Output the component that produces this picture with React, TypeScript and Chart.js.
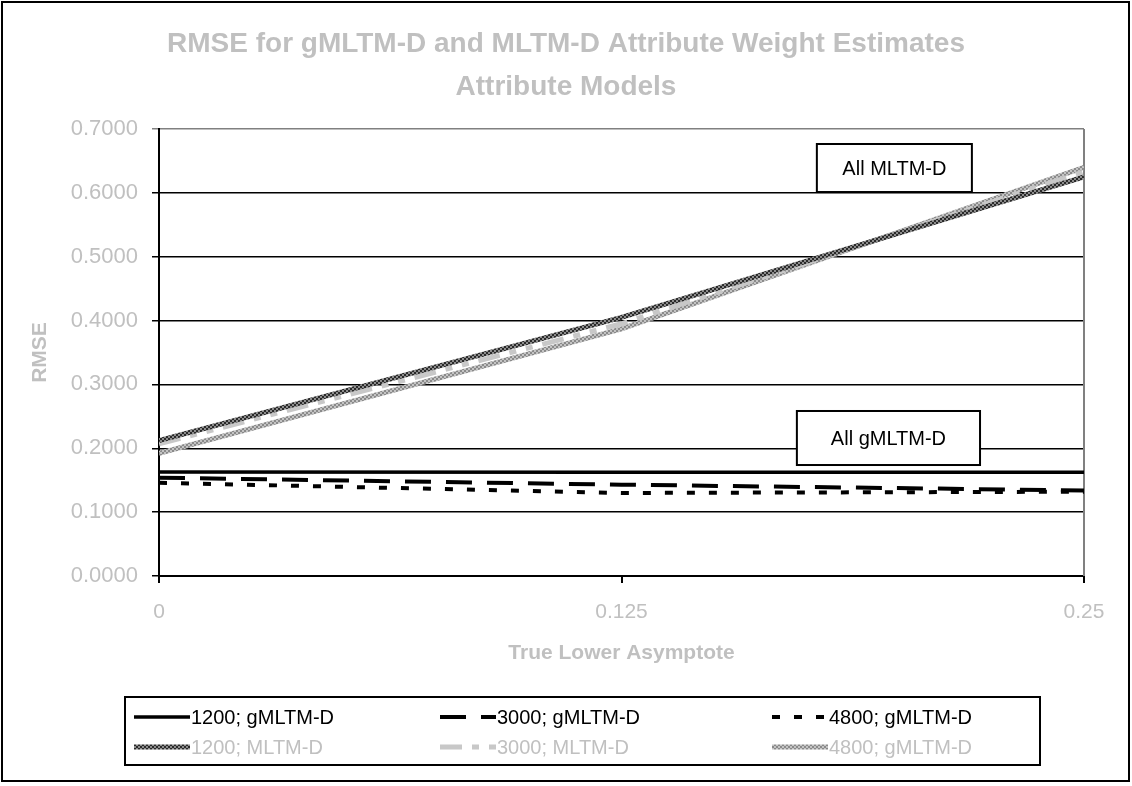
import React, { useEffect, useRef } from 'react';
import { Chart, registerables } from 'chart.js';

Chart.register(...registerables);

// True lower asymptote values on the x axis
const asymptotes = [0, 0.125, 0.25];
const xTickValues = [0, 0.125, 0.25];
const xTickLabels = ['0', '0.125', '0.25'];

// RMSE of attribute weight estimates, one array per sample size / model
const g1200 = [0.163, 0.1625, 0.1625];
const g3000 = [0.154, 0.143, 0.134];
const g4800 = [0.146, 0.13, 0.132];
const m1200 = [0.212, 0.405, 0.625];
const m3000 = [0.207, 0.395, 0.633];
const m4800 = [0.192, 0.387, 0.64];

const seriesLabels = [
  '1200; gMLTM-D',
  '3000; gMLTM-D',
  '4800; gMLTM-D',
  '1200; MLTM-D',
  '3000; MLTM-D',
  '4800; gMLTM-D',
];

const titleLines = ['RMSE for gMLTM-D and MLTM-D Attribute Weight Estimates', 'Attribute Models'];
const yTitle = 'RMSE';
const xTitle = 'True Lower Asymptote';

// Callout boxes, placed in data space: [xFrom, xTo] along the asymptote axis, [yTop, yBottom] in RMSE
const callouts = [
  { text: 'All MLTM-D', x: [0.1778, 0.2197], y: [0.6765, 0.6013] },
  { text: 'All gMLTM-D', x: [0.1724, 0.2219], y: [0.2584, 0.1738] },
];

const GREY = '#c0c0c0';
const FONT = 'Arial, "Liberation Sans", Helvetica, sans-serif';

function makePattern(ctx: CanvasRenderingContext2D, base: string, fleck: string): CanvasPattern | string {
  const c = document.createElement('canvas');
  c.width = 4;
  c.height = 4;
  const g = c.getContext('2d');
  if (!g) return base;
  g.fillStyle = base;
  g.fillRect(0, 0, 4, 4);
  g.fillStyle = fleck;
  g.fillRect(0, 0, 2, 2);
  g.fillRect(2, 2, 2, 2);
  return ctx.createPattern(c, 'repeat') || base;
}

const framePlugin = {
  id: 'frame',
  beforeDraw(chart: any) {
    const { ctx, width, height } = chart;
    ctx.save();
    ctx.fillStyle = '#fff';
    ctx.fillRect(0, 0, width, height);
    // two-line chart title, centred on the whole canvas
    ctx.fillStyle = GREY;
    ctx.font = `bold 28px ${FONT}`;
    ctx.textAlign = 'center';
    ctx.textBaseline = 'middle';
    ctx.fillText(titleLines[0], width / 2, 44);
    ctx.fillText(titleLines[1], width / 2, 87);
    ctx.restore();
  },
  beforeDatasetsDraw(chart: any) {
    const { ctx, chartArea } = chart;
    ctx.save();
    ctx.strokeStyle = '#808080';
    ctx.lineWidth = 2;
    ctx.beginPath();
    ctx.moveTo(chartArea.right, chartArea.top);
    ctx.lineTo(chartArea.right, chartArea.bottom);
    ctx.stroke();
    ctx.restore();
  },
  afterDraw(chart: any) {
    const { ctx, width, height } = chart;
    ctx.save();
    ctx.strokeStyle = '#000';
    ctx.lineWidth = 2;
    ctx.strokeRect(2, 2, width - 5, height - 7);
    ctx.restore();
  },
};

const calloutPlugin = {
  id: 'callouts',
  afterDatasetsDraw(chart: any) {
    const { ctx, scales } = chart;
    ctx.save();
    for (const c of callouts) {
      const x0 = scales.x.getPixelForValue(c.x[0]);
      const x1 = scales.x.getPixelForValue(c.x[1]);
      const y0 = scales.y.getPixelForValue(c.y[0]);
      const y1 = scales.y.getPixelForValue(c.y[1]);
      ctx.fillStyle = '#fff';
      ctx.fillRect(x0, y0, x1 - x0, y1 - y0);
      ctx.strokeStyle = '#000';
      ctx.lineWidth = 2;
      ctx.strokeRect(x0, y0, x1 - x0, y1 - y0);
      ctx.fillStyle = '#000';
      ctx.font = `20px ${FONT}`;
      ctx.textAlign = 'center';
      ctx.textBaseline = 'middle';
      ctx.fillText(c.text, (x0 + x1) / 2, (y0 + y1) / 2 + 1);
    }
    ctx.restore();
  },
};

// Boxed legend below the plot: three columns, two rows
const legendPlugin = {
  id: 'boxLegend',
  afterDraw(chart: any) {
    const { ctx } = chart;
    const box = { left: 125, top: 697, width: 915, height: 68 };
    const colX = [134, 440, 772];
    const rowY = [717, 747];
    const sampleLen = 56;
    ctx.save();
    ctx.strokeStyle = '#000';
    ctx.lineWidth = 2;
    ctx.strokeRect(box.left, box.top, box.width, box.height);
    chart.data.datasets.forEach((ds: any, i: number) => {
      const row = Math.floor(i / 3);
      const col = i % 3;
      const x = colX[col];
      const y = rowY[row];
      ctx.save();
      ctx.strokeStyle = ds.borderColor;
      ctx.lineWidth = ds.borderWidth;
      ctx.setLineDash(ds.borderDash || []);
      ctx.lineCap = 'butt';
      ctx.beginPath();
      ctx.moveTo(x, y);
      ctx.lineTo(x + sampleLen, y);
      ctx.stroke();
      ctx.restore();
      ctx.fillStyle = row === 0 ? '#000' : GREY;
      ctx.font = `20px ${FONT}`;
      ctx.textAlign = 'left';
      ctx.textBaseline = 'middle';
      ctx.fillText(ds.label, x + sampleLen + 1, y + 1);
    });
    ctx.restore();
  },
};

export default function App() {
  const canvasRef = useRef<HTMLCanvasElement | null>(null);

  useEffect(() => {
    const canvas = canvasRef.current;
    if (!canvas) return;
    const ctx = canvas.getContext('2d');
    if (!ctx) return;

    const pts = (ys: number[]) => asymptotes.map((x, i) => ({ x, y: ys[i] }));
    const darkTexture = makePattern(ctx, '#2a2a2a', '#8c8c8c');
    const greyTexture = makePattern(ctx, '#8a8a8a', '#c4c4c4');

    Chart.defaults.font.family = FONT;

    const chart = new Chart(canvas, {
      type: 'line',
      data: {
        datasets: [
          { label: seriesLabels[0], data: pts(g1200), borderColor: '#000', borderWidth: 3.5, borderDash: [] },
          { label: seriesLabels[1], data: pts(g3000), borderColor: '#000', borderWidth: 4, borderDash: [26, 15] },
          { label: seriesLabels[2], data: pts(g4800), borderColor: '#000', borderWidth: 4, borderDash: [8, 14] },
          { label: seriesLabels[3], data: pts(m1200), borderColor: darkTexture, borderWidth: 5, borderDash: [] },
          { label: seriesLabels[4], data: pts(m3000), borderColor: '#c8c8c8', borderWidth: 5, borderDash: [22, 10, 7, 10, 7, 10] },
          { label: seriesLabels[5], data: pts(m4800), borderColor: greyTexture, borderWidth: 5, borderDash: [] },
        ] as any,
      },
      options: {
        responsive: false,
        animation: false,
        events: [],
        layout: { padding: { top: 129, right: 48, bottom: 120, left: 10 } },
        elements: {
          point: { radius: 0 },
          line: { tension: 0, borderCapStyle: 'butt', borderJoinStyle: 'miter' },
        },
        plugins: {
          legend: { display: false },
          tooltip: { enabled: false },
          title: { display: false },
        },
        scales: {
          x: {
            type: 'linear',
            min: 0,
            max: 0.25,
            afterBuildTicks: (scale: any) => {
              scale.ticks = xTickValues.map((value) => ({ value }));
            },
            afterFit: (scale: any) => {
              scale.height = 90;
            },
            ticks: {
              color: GREY,
              font: { size: 21 },
              padding: 17,
              maxRotation: 0,
              autoSkip: false,
              callback: (_v: any, i: number) => xTickLabels[i],
            },
            grid: { drawOnChartArea: false, drawTicks: true, tickLength: 7, color: '#000', lineWidth: 2 },
            border: { color: '#000', width: 2 },
            title: {
              display: true,
              text: xTitle,
              color: GREY,
              font: { size: 21, weight: 'bold' },
              padding: { top: 0, bottom: 0 },
            },
          },
          y: {
            min: 0,
            max: 0.7,
            afterFit: (scale: any) => {
              scale.width = 149;
            },
            ticks: {
              stepSize: 0.1,
              color: GREY,
              font: { size: 22 },
              padding: 14,
              callback: (v: any) => Number(v).toFixed(4),
            },
            grid: {
              color: (c: any) => (c.index === 7 ? '#808080' : '#000'),
              lineWidth: 1.5,
              tickLength: 7,
            },
            border: { color: '#000', width: 2 },
            title: {
              display: true,
              text: yTitle,
              color: GREY,
              font: { size: 21, weight: 'bold' },
              padding: { top: 18, bottom: 0 },
            },
          },
        },
      } as any,
      plugins: [framePlugin, calloutPlugin, legendPlugin],
    });

    return () => chart.destroy();
  }, []);

  return (
    <div style={{ position: 'fixed', left: 0, top: 0, width: 1132, height: 786, background: '#fff' }}>
      <canvas ref={canvasRef} width={1132} height={786} style={{ width: 1132, height: 786, display: 'block' }} />
    </div>
  );
}
